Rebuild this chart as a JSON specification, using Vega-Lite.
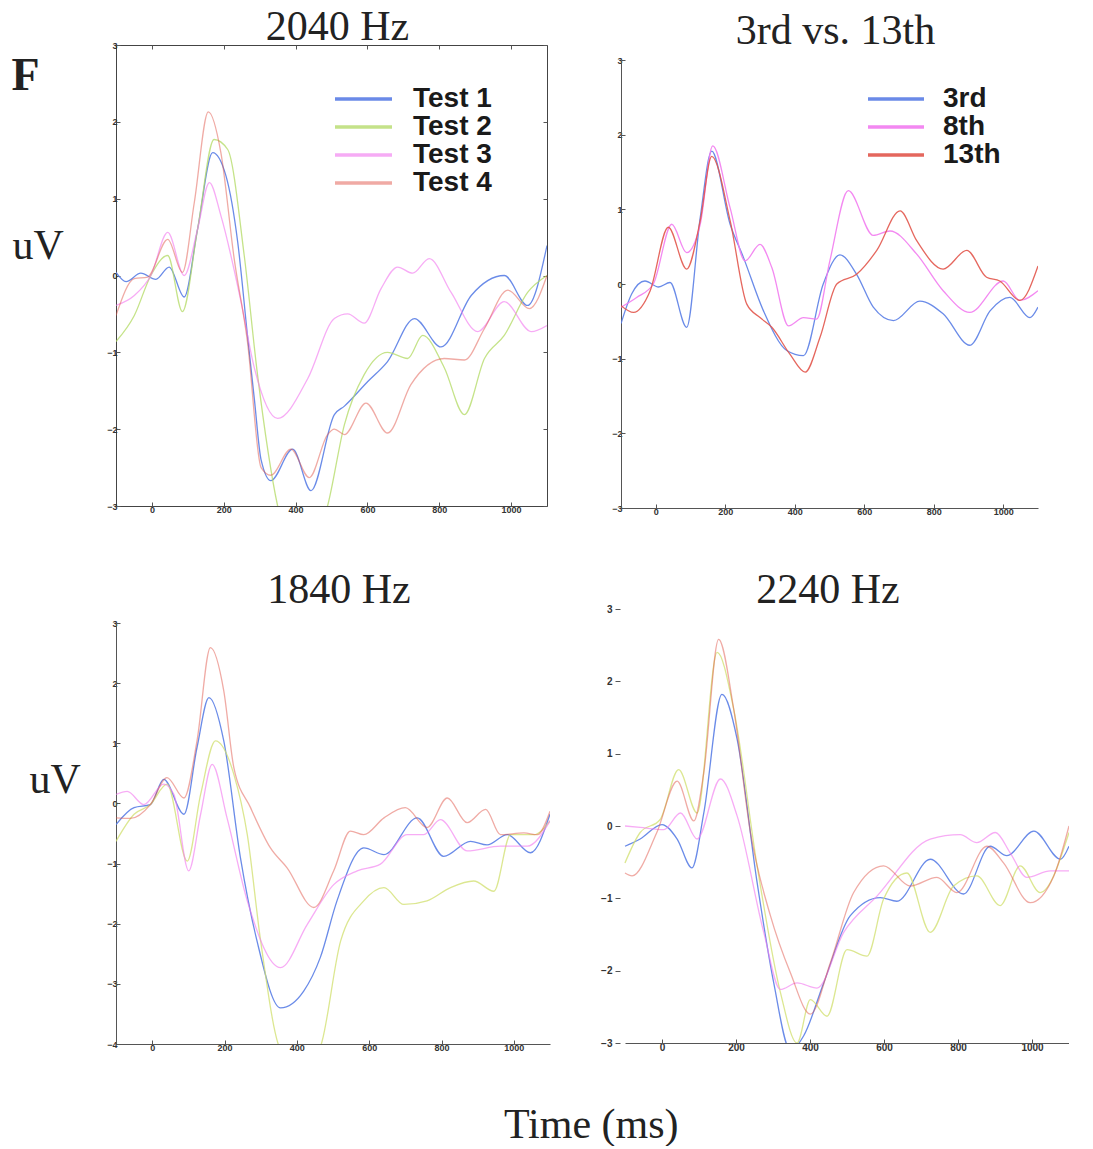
{
  "$schema": "https://vega.github.io/schema/vega-lite/v6.json",
  "padding": {"left": 11, "top": 5, "right": 0, "bottom": 0},
  "background": "white",
  "config": {
    "axis": {"labelFont": "Liberation Sans", "labelFontWeight": "bold", "labelFontSize": 9, "labelColor": "#333", "domainColor": "#555", "tickColor": "#555", "grid": false, "tickSize": -4, "labelPadding": 3, "format": "d", "titleFont": "Liberation Serif", "titleFontWeight": "normal", "titleFontSize": 42, "titleColor": "#222"},
    "title": {"font": "Liberation Serif", "fontSize": 42, "fontWeight": "normal", "color": "#222"}
  },
  "datasets": {
    "A": [
      {"t":-100,"v":0.04,"s":"Test 1"},{"t":-72,"v":-0.08,"s":"Test 1"},{"t":-31,"v":0.03,"s":"Test 1"},{"t":11,"v":-0.05,"s":"Test 1"},{"t":48,"v":0.11,"s":"Test 1"},{"t":90,"v":-0.28,"s":"Test 1"},{"t":127,"v":0.6,"s":"Test 1"},{"t":169,"v":1.6,"s":"Test 1"},{"t":206,"v":1.3,"s":"Test 1"},{"t":239,"v":0.43,"s":"Test 1"},{"t":266,"v":-0.78,"s":"Test 1"},{"t":285,"v":-1.6,"s":"Test 1"},{"t":304,"v":-2.4,"s":"Test 1"},{"t":331,"v":-2.67,"s":"Test 1"},{"t":392,"v":-2.26,"s":"Test 1"},{"t":443,"v":-2.8,"s":"Test 1"},{"t":508,"v":-1.81,"s":"Test 1"},{"t":536,"v":-1.7,"s":"Test 1"},{"t":601,"v":-1.38,"s":"Test 1"},{"t":656,"v":-1.12,"s":"Test 1"},{"t":731,"v":-0.56,"s":"Test 1"},{"t":805,"v":-0.93,"s":"Test 1"},{"t":889,"v":-0.26,"s":"Test 1"},{"t":981,"v":0.0,"s":"Test 1"},{"t":1046,"v":-0.39,"s":"Test 1"},{"t":1100,"v":0.39,"s":"Test 1"},
      {"t":-100,"v":-0.86,"s":"Test 2"},{"t":-49,"v":-0.52,"s":"Test 2"},{"t":-3,"v":0,"s":"Test 2"},{"t":44,"v":0.26,"s":"Test 2"},{"t":85,"v":-0.47,"s":"Test 2"},{"t":127,"v":0.6,"s":"Test 2"},{"t":173,"v":1.77,"s":"Test 2"},{"t":211,"v":1.64,"s":"Test 2"},{"t":257,"v":0.26,"s":"Test 2"},{"t":294,"v":-1.29,"s":"Test 2"},{"t":350,"v":-3.0,"s":"Test 2"},{"t":378,"v":-3.5,"s":"Test 2"},{"t":452,"v":-3.5,"s":"Test 2"},{"t":489,"v":-3.0,"s":"Test 2"},{"t":536,"v":-1.94,"s":"Test 2"},{"t":591,"v":-1.29,"s":"Test 2"},{"t":656,"v":-1.0,"s":"Test 2"},{"t":712,"v":-1.08,"s":"Test 2"},{"t":754,"v":-0.78,"s":"Test 2"},{"t":814,"v":-1.2,"s":"Test 2"},{"t":870,"v":-1.81,"s":"Test 2"},{"t":926,"v":-1.08,"s":"Test 2"},{"t":981,"v":-0.78,"s":"Test 2"},{"t":1046,"v":-0.22,"s":"Test 2"},{"t":1100,"v":0,"s":"Test 2"},
      {"t":-100,"v":-0.39,"s":"Test 3"},{"t":-49,"v":-0.26,"s":"Test 3"},{"t":-3,"v":0,"s":"Test 3"},{"t":44,"v":0.56,"s":"Test 3"},{"t":90,"v":0,"s":"Test 3"},{"t":127,"v":0.6,"s":"Test 3"},{"t":160,"v":1.21,"s":"Test 3"},{"t":192,"v":0.78,"s":"Test 3"},{"t":248,"v":-0.34,"s":"Test 3"},{"t":285,"v":-1.2,"s":"Test 3"},{"t":350,"v":-1.86,"s":"Test 3"},{"t":434,"v":-1.34,"s":"Test 3"},{"t":508,"v":-0.56,"s":"Test 3"},{"t":545,"v":-0.5,"s":"Test 3"},{"t":591,"v":-0.62,"s":"Test 3"},{"t":638,"v":-0.17,"s":"Test 3"},{"t":684,"v":0.11,"s":"Test 3"},{"t":726,"v":0.03,"s":"Test 3"},{"t":772,"v":0.22,"s":"Test 3"},{"t":833,"v":-0.22,"s":"Test 3"},{"t":907,"v":-0.73,"s":"Test 3"},{"t":981,"v":-0.34,"s":"Test 3"},{"t":1056,"v":-0.73,"s":"Test 3"},{"t":1100,"v":-0.65,"s":"Test 3"},
      {"t":-100,"v":-0.52,"s":"Test 4"},{"t":-49,"v":-0.04,"s":"Test 4"},{"t":-12,"v":-0.02,"s":"Test 4"},{"t":44,"v":0.47,"s":"Test 4"},{"t":85,"v":0.04,"s":"Test 4"},{"t":118,"v":0.95,"s":"Test 4"},{"t":157,"v":2.13,"s":"Test 4"},{"t":192,"v":1.6,"s":"Test 4"},{"t":229,"v":0.22,"s":"Test 4"},{"t":266,"v":-0.86,"s":"Test 4"},{"t":304,"v":-2.5,"s":"Test 4"},{"t":331,"v":-2.6,"s":"Test 4"},{"t":387,"v":-2.26,"s":"Test 4"},{"t":438,"v":-2.63,"s":"Test 4"},{"t":489,"v":-2.07,"s":"Test 4"},{"t":508,"v":-2.0,"s":"Test 4"},{"t":536,"v":-2.07,"s":"Test 4"},{"t":596,"v":-1.66,"s":"Test 4"},{"t":656,"v":-2.05,"s":"Test 4"},{"t":721,"v":-1.42,"s":"Test 4"},{"t":814,"v":-1.08,"s":"Test 4"},{"t":870,"v":-1.1,"s":"Test 4"},{"t":926,"v":-0.69,"s":"Test 4"},{"t":991,"v":-0.19,"s":"Test 4"},{"t":1051,"v":-0.43,"s":"Test 4"},{"t":1100,"v":0.0,"s":"Test 4"}
    ],
    "B": [
      {"t":-100,"v":-0.53,"s":"3rd"},{"t":-69,"v":-0.13,"s":"3rd"},{"t":-31,"v":0.04,"s":"3rd"},{"t":8,"v":-0.04,"s":"3rd"},{"t":41,"v":0.02,"s":"3rd"},{"t":89,"v":-0.58,"s":"3rd"},{"t":128,"v":0.89,"s":"3rd"},{"t":161,"v":1.78,"s":"3rd"},{"t":214,"v":0.8,"s":"3rd"},{"t":252,"v":0.36,"s":"3rd"},{"t":310,"v":-0.36,"s":"3rd"},{"t":377,"v":-0.89,"s":"3rd"},{"t":425,"v":-0.96,"s":"3rd"},{"t":482,"v":0,"s":"3rd"},{"t":530,"v":0.39,"s":"3rd"},{"t":578,"v":0.13,"s":"3rd"},{"t":626,"v":-0.31,"s":"3rd"},{"t":684,"v":-0.49,"s":"3rd"},{"t":760,"v":-0.23,"s":"3rd"},{"t":827,"v":-0.4,"s":"3rd"},{"t":904,"v":-0.82,"s":"3rd"},{"t":962,"v":-0.36,"s":"3rd"},{"t":1019,"v":-0.18,"s":"3rd"},{"t":1077,"v":-0.45,"s":"3rd"},{"t":1100,"v":-0.31,"s":"3rd"},
      {"t":-100,"v":-0.31,"s":"8th"},{"t":-55,"v":-0.18,"s":"8th"},{"t":-7,"v":0,"s":"8th"},{"t":46,"v":0.8,"s":"8th"},{"t":89,"v":0.42,"s":"8th"},{"t":128,"v":0.8,"s":"8th"},{"t":164,"v":1.85,"s":"8th"},{"t":214,"v":1.02,"s":"8th"},{"t":257,"v":0.31,"s":"8th"},{"t":300,"v":0.53,"s":"8th"},{"t":334,"v":0.22,"s":"8th"},{"t":382,"v":-0.56,"s":"8th"},{"t":425,"v":-0.45,"s":"8th"},{"t":463,"v":-0.47,"s":"8th"},{"t":501,"v":0.31,"s":"8th"},{"t":554,"v":1.25,"s":"8th"},{"t":626,"v":0.65,"s":"8th"},{"t":674,"v":0.71,"s":"8th"},{"t":751,"v":0.4,"s":"8th"},{"t":827,"v":-0.09,"s":"8th"},{"t":904,"v":-0.38,"s":"8th"},{"t":1000,"v":0.04,"s":"8th"},{"t":1048,"v":-0.22,"s":"8th"},{"t":1100,"v":-0.09,"s":"8th"},
      {"t":-100,"v":-0.29,"s":"13th"},{"t":-64,"v":-0.38,"s":"13th"},{"t":-16,"v":-0.09,"s":"13th"},{"t":36,"v":0.76,"s":"13th"},{"t":89,"v":0.2,"s":"13th"},{"t":128,"v":0.85,"s":"13th"},{"t":161,"v":1.71,"s":"13th"},{"t":214,"v":0.85,"s":"13th"},{"t":262,"v":-0.27,"s":"13th"},{"t":300,"v":-0.45,"s":"13th"},{"t":334,"v":-0.58,"s":"13th"},{"t":386,"v":-0.94,"s":"13th"},{"t":430,"v":-1.18,"s":"13th"},{"t":473,"v":-0.71,"s":"13th"},{"t":521,"v":0,"s":"13th"},{"t":578,"v":0.13,"s":"13th"},{"t":636,"v":0.45,"s":"13th"},{"t":703,"v":0.98,"s":"13th"},{"t":751,"v":0.58,"s":"13th"},{"t":827,"v":0.2,"s":"13th"},{"t":895,"v":0.45,"s":"13th"},{"t":952,"v":0.09,"s":"13th"},{"t":990,"v":0.04,"s":"13th"},{"t":1048,"v":-0.22,"s":"13th"},{"t":1100,"v":0.24,"s":"13th"}
    ],
    "C": [
      {"t":-100,"v":-0.35,"s":"Test 1"},{"t":-50,"v":-0.07,"s":"Test 1"},{"t":-5,"v":-0.02,"s":"Test 1"},{"t":32,"v":0.4,"s":"Test 1"},{"t":88,"v":-0.18,"s":"Test 1"},{"t":124,"v":0.93,"s":"Test 1"},{"t":157,"v":1.76,"s":"Test 1"},{"t":198,"v":1.04,"s":"Test 1"},{"t":244,"v":-0.9,"s":"Test 1"},{"t":290,"v":-2.29,"s":"Test 1"},{"t":355,"v":-3.4,"s":"Test 1"},{"t":419,"v":-3.12,"s":"Test 1"},{"t":465,"v":-2.56,"s":"Test 1"},{"t":511,"v":-1.62,"s":"Test 1"},{"t":585,"v":-0.74,"s":"Test 1"},{"t":641,"v":-0.85,"s":"Test 1"},{"t":733,"v":-0.24,"s":"Test 1"},{"t":806,"v":-0.88,"s":"Test 1"},{"t":880,"v":-0.63,"s":"Test 1"},{"t":926,"v":-0.69,"s":"Test 1"},{"t":982,"v":-0.52,"s":"Test 1"},{"t":1046,"v":-0.82,"s":"Test 1"},{"t":1100,"v":-0.18,"s":"Test 1"},
      {"t":-100,"v":-0.63,"s":"Test 2"},{"t":-50,"v":-0.18,"s":"Test 2"},{"t":-5,"v":-0.02,"s":"Test 2"},{"t":41,"v":0.32,"s":"Test 2"},{"t":97,"v":-0.96,"s":"Test 2"},{"t":134,"v":0.15,"s":"Test 2"},{"t":175,"v":1.04,"s":"Test 2"},{"t":226,"v":0.48,"s":"Test 2"},{"t":263,"v":-0.52,"s":"Test 2"},{"t":300,"v":-2.29,"s":"Test 2"},{"t":355,"v":-4.1,"s":"Test 2"},{"t":429,"v":-4.5,"s":"Test 2"},{"t":470,"v":-3.95,"s":"Test 2"},{"t":521,"v":-2.29,"s":"Test 2"},{"t":585,"v":-1.62,"s":"Test 2"},{"t":641,"v":-1.4,"s":"Test 2"},{"t":696,"v":-1.68,"s":"Test 2"},{"t":760,"v":-1.62,"s":"Test 2"},{"t":825,"v":-1.4,"s":"Test 2"},{"t":889,"v":-1.29,"s":"Test 2"},{"t":945,"v":-1.46,"s":"Test 2"},{"t":991,"v":-0.52,"s":"Test 2"},{"t":1055,"v":-0.52,"s":"Test 2"},{"t":1100,"v":-0.29,"s":"Test 2"},
      {"t":-100,"v":0.15,"s":"Test 3"},{"t":-69,"v":0.2,"s":"Test 3"},{"t":-23,"v":-0.02,"s":"Test 3"},{"t":32,"v":0.32,"s":"Test 3"},{"t":60,"v":0.15,"s":"Test 3"},{"t":101,"v":-1.12,"s":"Test 3"},{"t":134,"v":-0.18,"s":"Test 3"},{"t":166,"v":0.65,"s":"Test 3"},{"t":207,"v":-0.24,"s":"Test 3"},{"t":263,"v":-1.62,"s":"Test 3"},{"t":355,"v":-2.73,"s":"Test 3"},{"t":429,"v":-2.01,"s":"Test 3"},{"t":502,"v":-1.35,"s":"Test 3"},{"t":567,"v":-1.12,"s":"Test 3"},{"t":631,"v":-1.01,"s":"Test 3"},{"t":705,"v":-0.52,"s":"Test 3"},{"t":751,"v":-0.52,"s":"Test 3"},{"t":797,"v":-0.27,"s":"Test 3"},{"t":871,"v":-0.79,"s":"Test 3"},{"t":963,"v":-0.71,"s":"Test 3"},{"t":1037,"v":-0.71,"s":"Test 3"},{"t":1100,"v":-0.29,"s":"Test 3"},
      {"t":-100,"v":-0.24,"s":"Test 4"},{"t":-60,"v":-0.25,"s":"Test 4"},{"t":-5,"v":-0.02,"s":"Test 4"},{"t":41,"v":0.43,"s":"Test 4"},{"t":88,"v":0.09,"s":"Test 4"},{"t":124,"v":1.04,"s":"Test 4"},{"t":161,"v":2.59,"s":"Test 4"},{"t":198,"v":1.87,"s":"Test 4"},{"t":226,"v":0.59,"s":"Test 4"},{"t":272,"v":-0.07,"s":"Test 4"},{"t":327,"v":-0.74,"s":"Test 4"},{"t":373,"v":-1.07,"s":"Test 4"},{"t":447,"v":-1.73,"s":"Test 4"},{"t":502,"v":-1.12,"s":"Test 4"},{"t":548,"v":-0.46,"s":"Test 4"},{"t":585,"v":-0.52,"s":"Test 4"},{"t":641,"v":-0.24,"s":"Test 4"},{"t":700,"v":-0.07,"s":"Test 4"},{"t":760,"v":-0.4,"s":"Test 4"},{"t":816,"v":0.09,"s":"Test 4"},{"t":871,"v":-0.32,"s":"Test 4"},{"t":922,"v":-0.1,"s":"Test 4"},{"t":963,"v":-0.52,"s":"Test 4"},{"t":1028,"v":-0.49,"s":"Test 4"},{"t":1065,"v":-0.52,"s":"Test 4"},{"t":1100,"v":-0.13,"s":"Test 4"}
    ],
    "D": [
      {"t":-100,"v":-0.28,"s":"Test 1"},{"t":-59,"v":-0.18,"s":"Test 1"},{"t":0,"v":0.02,"s":"Test 1"},{"t":41,"v":-0.18,"s":"Test 1"},{"t":81,"v":-0.58,"s":"Test 1"},{"t":113,"v":0.18,"s":"Test 1"},{"t":162,"v":1.82,"s":"Test 1"},{"t":203,"v":1.2,"s":"Test 1"},{"t":257,"v":-0.78,"s":"Test 1"},{"t":302,"v":-2.17,"s":"Test 1"},{"t":347,"v":-3.1,"s":"Test 1"},{"t":383,"v":-2.9,"s":"Test 1"},{"t":437,"v":-2.17,"s":"Test 1"},{"t":509,"v":-1.24,"s":"Test 1"},{"t":590,"v":-0.99,"s":"Test 1"},{"t":635,"v":-1.04,"s":"Test 1"},{"t":725,"v":-0.46,"s":"Test 1"},{"t":815,"v":-0.94,"s":"Test 1"},{"t":887,"v":-0.28,"s":"Test 1"},{"t":932,"v":-0.41,"s":"Test 1"},{"t":1005,"v":-0.07,"s":"Test 1"},{"t":1077,"v":-0.46,"s":"Test 1"},{"t":1100,"v":-0.28,"s":"Test 1"},
      {"t":-100,"v":-0.51,"s":"Test 2"},{"t":-59,"v":-0.09,"s":"Test 2"},{"t":-5,"v":0.09,"s":"Test 2"},{"t":45,"v":0.78,"s":"Test 2"},{"t":95,"v":0.18,"s":"Test 2"},{"t":149,"v":2.4,"s":"Test 2"},{"t":194,"v":1.61,"s":"Test 2"},{"t":257,"v":-0.55,"s":"Test 2"},{"t":320,"v":-2.3,"s":"Test 2"},{"t":365,"v":-3.0,"s":"Test 2"},{"t":401,"v":-2.4,"s":"Test 2"},{"t":446,"v":-2.63,"s":"Test 2"},{"t":500,"v":-1.71,"s":"Test 2"},{"t":554,"v":-1.8,"s":"Test 2"},{"t":599,"v":-1.01,"s":"Test 2"},{"t":662,"v":-0.65,"s":"Test 2"},{"t":725,"v":-1.47,"s":"Test 2"},{"t":788,"v":-0.83,"s":"Test 2"},{"t":851,"v":-0.69,"s":"Test 2"},{"t":914,"v":-1.1,"s":"Test 2"},{"t":968,"v":-0.55,"s":"Test 2"},{"t":1022,"v":-0.92,"s":"Test 2"},{"t":1100,"v":-0.09,"s":"Test 2"},
      {"t":-100,"v":0,"s":"Test 3"},{"t":-59,"v":-0.02,"s":"Test 3"},{"t":5,"v":-0.05,"s":"Test 3"},{"t":50,"v":0.18,"s":"Test 3"},{"t":95,"v":-0.18,"s":"Test 3"},{"t":158,"v":0.65,"s":"Test 3"},{"t":203,"v":0.14,"s":"Test 3"},{"t":275,"v":-1.47,"s":"Test 3"},{"t":320,"v":-2.26,"s":"Test 3"},{"t":365,"v":-2.17,"s":"Test 3"},{"t":419,"v":-2.24,"s":"Test 3"},{"t":491,"v":-1.47,"s":"Test 3"},{"t":581,"v":-0.97,"s":"Test 3"},{"t":725,"v":-0.18,"s":"Test 3"},{"t":806,"v":-0.12,"s":"Test 3"},{"t":851,"v":-0.23,"s":"Test 3"},{"t":901,"v":-0.09,"s":"Test 3"},{"t":941,"v":-0.37,"s":"Test 3"},{"t":986,"v":-0.71,"s":"Test 3"},{"t":1050,"v":-0.62,"s":"Test 3"},{"t":1100,"v":-0.62,"s":"Test 3"},
      {"t":-100,"v":-0.65,"s":"Test 4"},{"t":-81,"v":-0.69,"s":"Test 4"},{"t":-14,"v":-0.09,"s":"Test 4"},{"t":41,"v":0.62,"s":"Test 4"},{"t":86,"v":0.07,"s":"Test 4"},{"t":113,"v":0.74,"s":"Test 4"},{"t":153,"v":2.58,"s":"Test 4"},{"t":194,"v":1.61,"s":"Test 4"},{"t":239,"v":-0.09,"s":"Test 4"},{"t":293,"v":-1.24,"s":"Test 4"},{"t":347,"v":-2.03,"s":"Test 4"},{"t":401,"v":-2.6,"s":"Test 4"},{"t":455,"v":-1.89,"s":"Test 4"},{"t":518,"v":-0.92,"s":"Test 4"},{"t":599,"v":-0.55,"s":"Test 4"},{"t":671,"v":-0.83,"s":"Test 4"},{"t":743,"v":-0.71,"s":"Test 4"},{"t":797,"v":-0.92,"s":"Test 4"},{"t":878,"v":-0.28,"s":"Test 4"},{"t":923,"v":-0.51,"s":"Test 4"},{"t":995,"v":-1.06,"s":"Test 4"},{"t":1059,"v":-0.69,"s":"Test 4"},{"t":1100,"v":0,"s":"Test 4"}
    ]
  },
  "title": {"text": "F", "anchor": "start", "frame": "bounds", "font": "Liberation Serif", "fontWeight": "bold", "fontSize": 46, "color": "#222", "offset": -94},
  "vconcat": [
    {
      "title": {"text": "Time (ms)", "orient": "bottom", "anchor": "middle", "frame": "bounds", "offset": 53, "dx": 51},
      "columns": 2,
      "align": {"row": "none", "column": "each"},
      "bounds": "full",
      "spacing": {"row": 53, "column": 50},
      "resolve": {"scale": {"color": "independent", "opacity": "independent", "x": "independent", "y": "independent"}, "legend": {"color": "independent"}},
      "concat": [
        {
          "data": {"name": "A"},
          "title": {"text": "2040 Hz", "offset": -8, "dx": 6},
          "width": 431, "height": 461,
          "view": {"stroke": "#444", "strokeWidth": 1},
          "resolve": {"axis": {"x": "independent", "y": "independent"}},
          "layer": [
            {
              "mark": {"type": "line", "strokeWidth": 1.3, "interpolate": "monotone", "clip": true},
              "encoding": {
                "x": {"field": "t", "type": "quantitative", "scale": {"domain": [-100, 1100], "nice": false, "zero": false}, "axis": {"values": [0,200,400,600,800,1000], "title": null, "domain": false}},
                "y": {"field": "v", "type": "quantitative", "scale": {"domain": [-3, 3], "nice": false}, "axis": {"values": [-3,-2,-1,0,1,2,3], "title": "uV", "titleAngle": 0, "titleAlign": "left", "titleBaseline": "alphabetic", "titleX": -104, "titleY": 213, "domain": false}},
                "color": {"field": "s", "type": "nominal", "scale": {"domain": ["Test 1","Test 2","Test 3","Test 4"], "range": ["#5a7ee6","#b3da66","#f27cf0","#e2574c"]},
                  "legend": {"orient": "none", "legendX": 217, "legendY": 40, "title": null, "symbolType": "stroke", "symbolSize": 3249, "symbolStrokeWidth": 3.5, "clipHeight": 28, "labelFont": "Liberation Sans", "labelFontWeight": "bold", "labelFontSize": 28, "labelColor": "#1a1a1a", "labelOffset": 19, "rowPadding": 0, "padding": 0, "labelLimit": 300}},
                "opacity": {"field": "s", "type": "nominal", "scale": {"domain": ["Test 1","Test 2","Test 3","Test 4"], "range": [0.9, 0.5, 0.85, 0.9]}, "legend": null}
              }
            },
            {
              "mark": {"type": "line", "strokeOpacity": 0, "clip": true},
              "encoding": {
                "x": {"field": "t", "type": "quantitative", "axis": {"orient": "top", "values": [0,200,400,600,800,1000], "title": null, "labels": false, "domain": false}},
                "y": {"field": "v", "type": "quantitative", "axis": {"orient": "right", "values": [-3,-2,-1,0,1,2,3], "title": null, "labels": false, "domain": false}},
                "detail": {"field": "s"}
              }
            }
          ]
        },
        {
          "data": {"name": "B"},
          "title": {"text": "3rd vs. 13th", "offset": -8, "dx": 6},
          "width": 417, "height": 463,
          "view": {"stroke": null},
          "mark": {"type": "line", "strokeWidth": 1.3, "interpolate": "monotone", "clip": true},
          "encoding": {
            "x": {"field": "t", "type": "quantitative", "scale": {"domain": [-100, 1100], "nice": false, "zero": false}, "axis": {"values": [0,200,400,600,800,1000], "title": null}},
            "y": {"field": "v", "type": "quantitative", "scale": {"domain": [-3, 3], "nice": false, "range": [463, 15]}, "axis": {"values": [-3,-2,-1,0,1,2,3], "title": null}},
            "color": {"field": "s", "type": "nominal", "scale": {"domain": ["3rd","8th","13th"], "range": ["#5a7ee6","#f27cf0","#e2574c"]},
              "legend": {"orient": "none", "legendX": 245, "legendY": 40, "title": null, "symbolType": "stroke", "symbolSize": 3136, "symbolStrokeWidth": 3.5, "clipHeight": 28, "labelFont": "Liberation Sans", "labelFontWeight": "bold", "labelFontSize": 28, "labelColor": "#1a1a1a", "labelOffset": 17, "rowPadding": 0, "padding": 0, "labelLimit": 300}},
            "opacity": {"value": 0.9}
          }
        },
        {
          "data": {"name": "C"},
          "title": {"text": "1840 Hz", "offset": 7, "dx": 6},
          "width": 434, "height": 421,
          "view": {"stroke": null},
          "mark": {"type": "line", "strokeWidth": 1.3, "interpolate": "monotone", "clip": true},
          "encoding": {
            "x": {"field": "t", "type": "quantitative", "scale": {"domain": [-100, 1100], "nice": false, "zero": false}, "axis": {"values": [0,200,400,600,800,1000], "title": null}},
            "y": {"field": "v", "type": "quantitative", "scale": {"domain": [-4, 3], "nice": false}, "axis": {"values": [-4,-3,-2,-1,0,1,2,3], "title": "uV", "titleAngle": 0, "titleAlign": "left", "titleBaseline": "alphabetic", "titleX": -87, "titleY": 169}},
            "color": {"field": "s", "type": "nominal", "scale": {"domain": ["Test 1","Test 2","Test 3","Test 4"], "range": ["#5a7ee6","#d2e070","#f27cf0","#e2574c"]}, "legend": null},
            "opacity": {"field": "s", "type": "nominal", "scale": {"domain": ["Test 1","Test 2","Test 3","Test 4"], "range": [0.9, 0.5, 0.85, 0.9]}, "legend": null}
          }
        },
        {
          "data": {"name": "D"},
          "title": {"text": "2240 Hz", "offset": -8, "dx": -17},
          "width": 448, "height": 434,
          "view": {"stroke": null},
          "mark": {"type": "line", "strokeWidth": 1.3, "interpolate": "monotone", "clip": true},
          "encoding": {
            "x": {"field": "t", "type": "quantitative", "scale": {"domain": [-100, 1100], "nice": false, "zero": false, "range": [4, 448]}, "axis": {"values": [0,200,400,600,800,1000], "title": null, "labelFontSize": 10}},
            "y": {"field": "v", "type": "quantitative", "scale": {"domain": [-3, 3], "nice": false}, "axis": {"values": [-3,-2,-1,0,1,2,3], "title": null, "domain": false, "tickSize": 5, "offset": 1, "labelFontSize": 10}},
            "color": {"field": "s", "type": "nominal", "scale": {"domain": ["Test 1","Test 2","Test 3","Test 4"], "range": ["#5a7ee6","#d2e070","#f27cf0","#e2574c"]}, "legend": null},
            "opacity": {"field": "s", "type": "nominal", "scale": {"domain": ["Test 1","Test 2","Test 3","Test 4"], "range": [0.9, 0.5, 0.85, 0.9]}, "legend": null}
          }
        }
      ]
    }
  ]
}
